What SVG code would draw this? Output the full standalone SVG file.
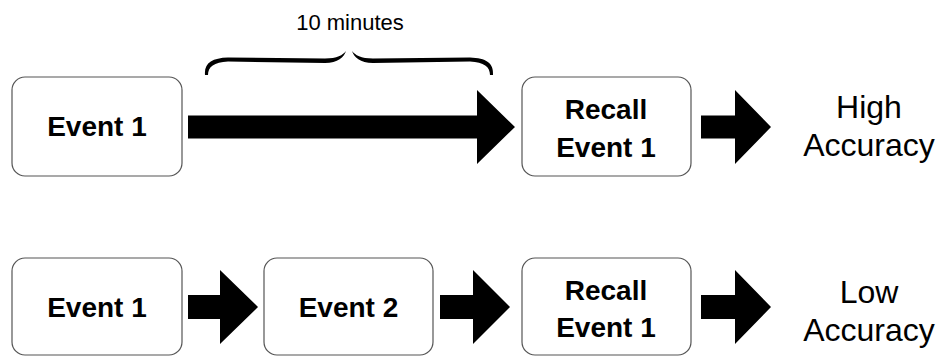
<svg xmlns="http://www.w3.org/2000/svg" width="947" height="356" viewBox="0 0 947 356">
<style>
.box{fill:#fff;stroke:#555;stroke-width:1.2}
.lbl{font-family:"Liberation Sans",Arial,Helvetica,sans-serif;font-weight:bold;font-size:28px;fill:#000;text-anchor:middle}
.res{font-family:"Liberation Sans",Arial,Helvetica,sans-serif;font-size:32px;fill:#000;text-anchor:middle}
.note{font-family:"Liberation Sans",Arial,Helvetica,sans-serif;font-size:22px;fill:#000;text-anchor:middle}
.arr{fill:#000}
</style>
<rect width="947" height="356" fill="#fff"/>
<g id="connectors">
<path class="arr" d="M188,115.5 H477 V90 L515,127 L477,164 V138.5 H188 Z"/>
<path class="arr" d="M701,115.5 H735 V90 L771,127 L735,164 V138.5 H701 Z"/>
<path class="arr" d="M188,295 H220 V270 L258,307 L220,344 V319 H188 Z"/>
<path class="arr" d="M440,295 H473 V270 L510,307 L473,344 V319 H440 Z"/>
<path class="arr" d="M701,295 H735 V270 L771,307 L735,344 V319 H701 Z"/>
</g>
<g id="brace">
<path fill="#000" d="M205,75 C204,63 212,58 228,57.5 L325,58.5 C337,58.5 343,55 346,51 C344,57 338,63 325,63 L228,61.5 C214,62 208,67 208,75 Z"/>
<path fill="#000" d="M493,75 C494,63 486,58 470,57.5 L373,58.5 C361,58.5 355,55 352,51 C354,57 360,63 373,63 L470,61.5 C484,62 490,67 490,75 Z"/>
<text class="note" x="350" y="30">10 minutes</text>
</g>
<g id="top-event1">
<rect class="box" x="12" y="77" width="170" height="99" rx="13"/>
<text class="lbl" x="97" y="136">Event 1</text>
</g>
<g id="top-recall">
<rect class="box" x="522" y="77" width="169" height="99" rx="13"/>
<text class="lbl" x="606" y="119">Recall</text>
<text class="lbl" x="606" y="156.5">Event 1</text>
</g>
<g id="top-result">
<text class="res" x="869" y="118">High</text>
<text class="res" x="869" y="156">Accuracy</text>
</g>
<g id="bottom-event1">
<rect class="box" x="12" y="258" width="170" height="97" rx="13"/>
<text class="lbl" x="97" y="317">Event 1</text>
</g>
<g id="bottom-event2">
<rect class="box" x="264" y="258" width="169" height="97" rx="13"/>
<text class="lbl" x="348.5" y="317">Event 2</text>
</g>
<g id="bottom-recall">
<rect class="box" x="522" y="258" width="169" height="97" rx="13"/>
<text class="lbl" x="606" y="299.5">Recall</text>
<text class="lbl" x="606" y="337">Event 1</text>
</g>
<g id="bottom-result">
<text class="res" x="869" y="302.5">Low</text>
<text class="res" x="869" y="340.5">Accuracy</text>
</g>
</svg>
